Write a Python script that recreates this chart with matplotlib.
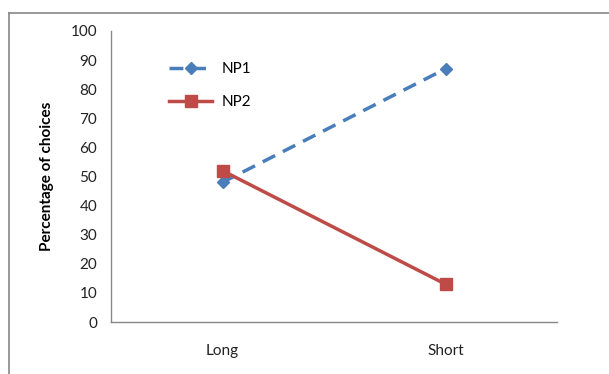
import matplotlib
matplotlib.use("Agg")
import matplotlib.pyplot as plt
from matplotlib.lines import Line2D

categories = ["Long", "Short"]
np1 = [48, 87]
np2 = [52, 13]
yticks = [0, 10, 20, 30, 40, 50, 60, 70, 80, 90, 100]

plt.rcParams['font.family'] = ['Lato', 'DejaVu Sans']

fig = plt.figure(figsize=(6.09, 3.74), dpi=100)
ax = fig.add_axes([111/609, 1-322/374, (557-111)/609, (322-31)/374])

x = [0.5, 1.5]
ax.plot(x, np1, color='#4A7EBB', lw=2.5, ls=(0, (4, 2.5)), marker='D', ms=6.5,
        label='NP1')
ax.plot(x, np2, color='#BE4B48', lw=2.5, marker='s', ms=8, label='NP2')

ax.set_xlim(0, 2)
ax.set_ylim(0, 100)
ax.set_yticks(yticks)
ax.set_xticks(x)
ax.set_xticklabels(categories)
ax.tick_params(length=0, labelsize=11, colors='#222222')
ax.tick_params(axis='x', pad=16)
ax.tick_params(axis='y', pad=10)
for s in ['top', 'right']:
    ax.spines[s].set_visible(False)
for s in ['left', 'bottom']:
    ax.spines[s].set_color('#888888')
    ax.spines[s].set_linewidth(1)
ax.set_ylabel('Percentage of choices', fontsize=11, fontweight='bold', labelpad=12)

ax.legend(loc='upper left', bbox_to_anchor=(0.10, 0.94), frameon=False,
          fontsize=11, handlelength=2.8, labelspacing=1.25, handletextpad=0.6)

fig.add_artist(Line2D([9/609, 9/609], [0, 1-13/374], color='#888888', lw=1.2,
                      transform=fig.transFigure))
fig.add_artist(Line2D([9/609, 1], [1-13/374, 1-13/374], color='#888888', lw=1.2,
                      transform=fig.transFigure))

fig.savefig('out.png', dpi=100)
